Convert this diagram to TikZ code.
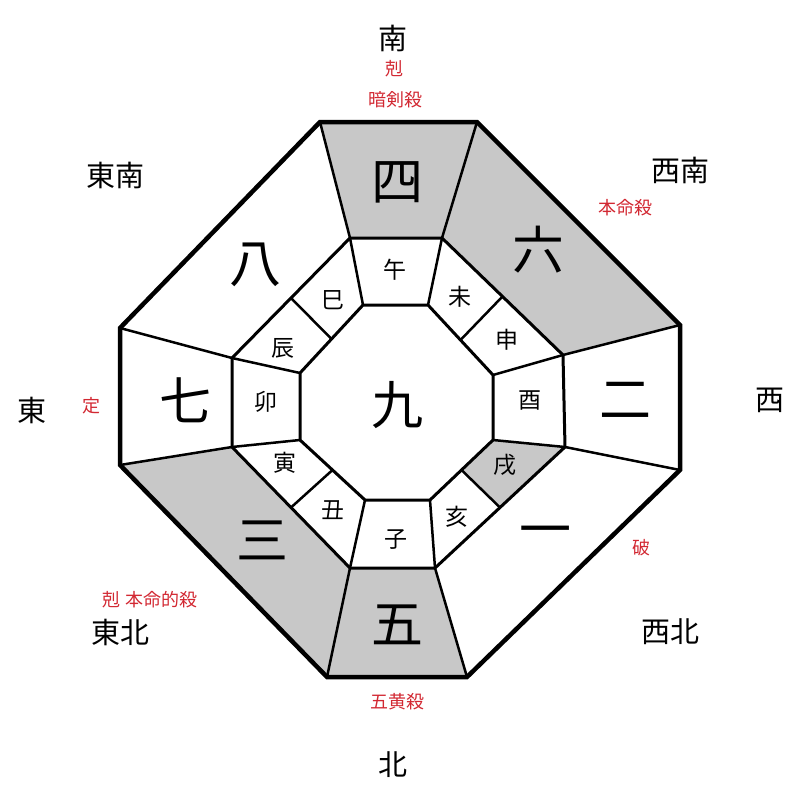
\documentclass[tikz,border=0pt]{standalone}
\usepackage{fontspec}
\setmainfont{Noto Sans CJK JP}
\usetikzlibrary{calc}
\definecolor{cellgray}{RGB}{200,200,200}
\definecolor{note}{RGB}{210,40,50}
\tikzset{
	big/.style = {font=\fontsize{52}{52}\selectfont},
	cell/.style = {font=\fontsize{23}{23}\selectfont},
	dir/.style = {font=\fontsize{29}{29}\selectfont},
	remark/.style = {text=note, font=\fontsize{18}{18}\selectfont},
}
\begin{document}
\begin{tikzpicture}[x=1pt, y=-1pt]
	\useasboundingbox (0,0) rectangle (800,800);
	% outer, middle and inner octagons
	\coordinate (o1) at (320,122); \coordinate (o2) at (477,122);
	\coordinate (o3) at (680,325); \coordinate (o4) at (680,470);
	\coordinate (o5) at (467,677); \coordinate (o6) at (327,677);
	\coordinate (o7) at (120,465); \coordinate (o8) at (120,328);
	\coordinate (m1) at (350,238); \coordinate (m2) at (442,238);
	\coordinate (m3) at (563,355); \coordinate (m4) at (565,447);
	\coordinate (m5) at (435,568); \coordinate (m6) at (350,568);
	\coordinate (m7) at (232,447); \coordinate (m8) at (232,358);
	\coordinate (i1) at (363,305); \coordinate (i2) at (428,305);
	\coordinate (i3) at (493,375); \coordinate (i4) at (493,440);
	\coordinate (i5) at (430,500); \coordinate (i6) at (365,500);
	\coordinate (i7) at (300,440); \coordinate (i8) at (300,373);
	% shaded cells
	\fill[cellgray] (o1) -- (o2) -- (m2) -- (m1) -- cycle;
	\fill[cellgray] (o2) -- (o3) -- (m3) -- (m2) -- cycle;
	\fill[cellgray] (o6) -- (o5) -- (m5) -- (m6) -- cycle;
	\fill[cellgray] (o7) -- (o6) -- (m6) -- (m7) -- cycle;
	\fill[cellgray] (m4) -- ($(m4)!.5!(m5)$) -- ($(i4)!.5!(i5)$) -- (i4) -- cycle;
	% lines
	\draw[line width=4.5pt] (o1) -- (o2) -- (o3) -- (o4) -- (o5) -- (o6) -- (o7) -- (o8) -- cycle;
	\draw[line width=3pt] (m1) -- (m2) -- (m3) -- (m4) -- (m5) -- (m6) -- (m7) -- (m8) -- cycle;
	\draw[line width=3pt] (i1) -- (i2) -- (i3) -- (i4) -- (i5) -- (i6) -- (i7) -- (i8) -- cycle;
	\foreach \k in {1,...,8}
		\draw[line width=2.5pt] (o\k) -- (m\k) -- (i\k);
	\draw[line width=2.5pt] ($(m2)!.5!(m3)$) -- ($(i2)!.5!(i3)$);
	\draw[line width=2.5pt] ($(m4)!.5!(m5)$) -- ($(i4)!.5!(i5)$);
	\draw[line width=2.5pt] ($(m6)!.5!(m7)$) -- ($(i6)!.5!(i7)$);
	\draw[line width=2.5pt] ($(m8)!.5!(m1)$) -- ($(i8)!.5!(i1)$);
	% numbers
	\node[big] (n4) at (397,182) {四};
	\node[big] (n6) at (538,250) {六};
	\node[big] (n2) at (625,400) {二};
	\node[big] (n1) at (545,537) {一};
	\node[big] (n5) at (397,625) {五};
	\node[big] (n3) at (262,540) {三};
	\node[big] (n7) at (185,400) {七};
	\node[big] (n8) at (255,265) {八};
	\node[big] (n9) at (397,405) {九};
	% branches
	\node[cell] (wu) at (395,270) {午};
	\node[cell] (wei) at (460,297) {未};
	\node[cell] (shen) at (507,340) {申};
	\node[cell] (you) at (530,400) {酉};
	\node[cell] (xu) at (505,465) {戌};
	\node[cell] (hai) at (457,517) {亥};
	\node[cell] (zi) at (396,540) {子};
	\node[cell] (chou) at (333,510) {丑};
	\node[cell] (yin) at (285,463) {寅};
	\node[cell] (mao) at (266,402) {卯};
	\node[cell] (chen) at (283,348) {辰};
	\node[cell] (si) at (333,300) {巳};
	% directions
	\node[dir] (south) at (393,38) {南};
	\node[dir] (north) at (393,765) {北};
	\node[dir] (east) at (32,410) {東};
	\node[dir] (west) at (770,400) {西};
	\node[dir] (se) at (115,175) {東南};
	\node[dir] (sw) at (680,170) {西南};
	\node[dir] (ne) at (120,632) {東北};
	\node[dir] (nw) at (670,632) {西北};
	% remarks
	\node[remark] (koku) at (394,69) {剋};
	\node[remark] (anken) at (395,100) {暗剣殺};
	\node[remark] (honmei) at (625,208) {本命殺};
	\node[remark] (tei) at (91,406) {定};
	\node[remark] (ha) at (641,548) {破};
	\node[remark] (tekisatsu) at (150,600) {剋 本命的殺};
	\node[remark] (gooh) at (397,702) {五黄殺};
\end{tikzpicture}
\end{document}
